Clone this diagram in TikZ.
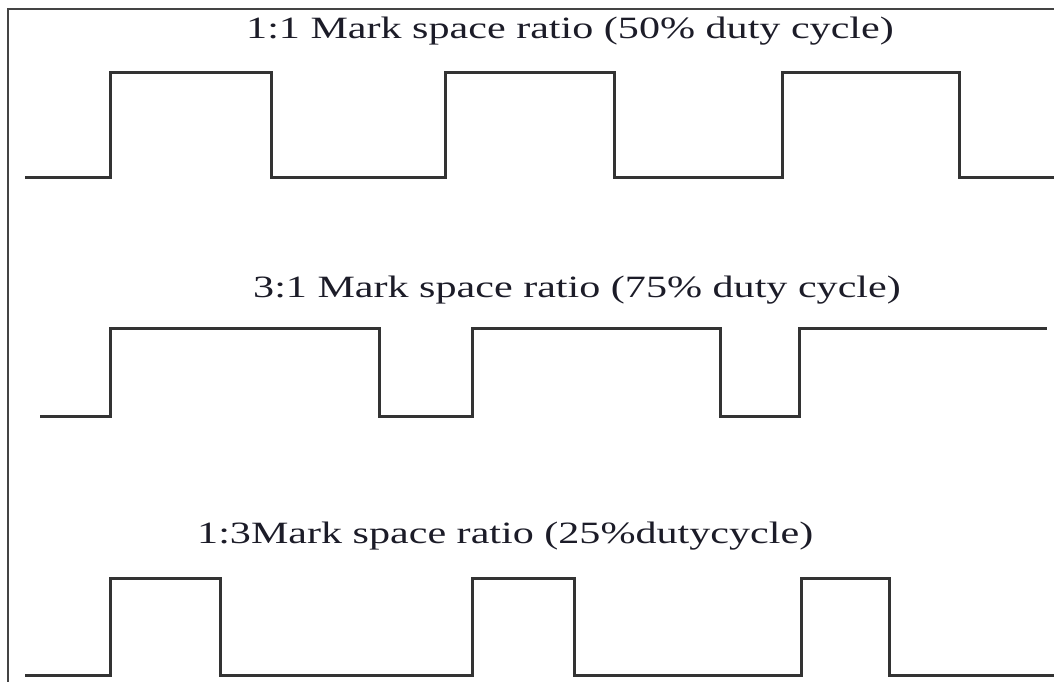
\documentclass[tikz,border=0pt]{standalone}
\usepackage{fontspec}
\setmainfont{Liberation Serif}
\definecolor{wave}{HTML}{333333}
\definecolor{caption}{HTML}{1C1C28}
\definecolor{frame}{HTML}{444444}
\begin{document}
\begin{tikzpicture}[x=1pt,y=-1pt,
  signal/.style={draw=wave,line width=3pt,line join=miter},
  title/.style={anchor=base west,inner sep=0pt,text=caption,
    font=\fontsize{31}{31}\selectfont},
  frameline/.style={draw=frame,line width=1.5pt}]
  \useasboundingbox (0,0) rectangle (1054,682);
  % frame edges
  \draw[frameline] (8,682) -- (8,9) -- (1054,9);

  % 1:1 mark/space
  \node[title] (t1) at (246,39) {\scalebox{1.358}[1]{1:1 Mark space ratio (50\% duty cycle)}};
  \draw[signal] (25,177) -- (110,177) -- (110,73) -- (271,73) -- (271,177)
    -- (445,177) -- (445,73) -- (614,73) -- (614,177)
    -- (782,177) -- (782,73) -- (959,73) -- (959,177) -- (1054,177);

  % 3:1 mark/space
  \node[title] (t2) at (253,297) {\scalebox{1.358}[1]{3:1 Mark space ratio (75\% duty cycle)}};
  \draw[signal] (40,416) -- (110,416) -- (110,328) -- (379,328) -- (379,416)
    -- (472,416) -- (472,328) -- (720,328) -- (720,416)
    -- (799,416) -- (799,328) -- (1047,328);

  % 1:3 mark/space
  \node[title] (t3) at (197,543) {\scalebox{1.358}[1]{1:3Mark space ratio (25\%dutycycle)}};
  \draw[signal] (25,675) -- (110,675) -- (110,578) -- (220,578) -- (220,675)
    -- (472,675) -- (472,578) -- (574,578) -- (574,675)
    -- (801,675) -- (801,578) -- (889,578) -- (889,675) -- (1054,675);
\end{tikzpicture}
\end{document}
